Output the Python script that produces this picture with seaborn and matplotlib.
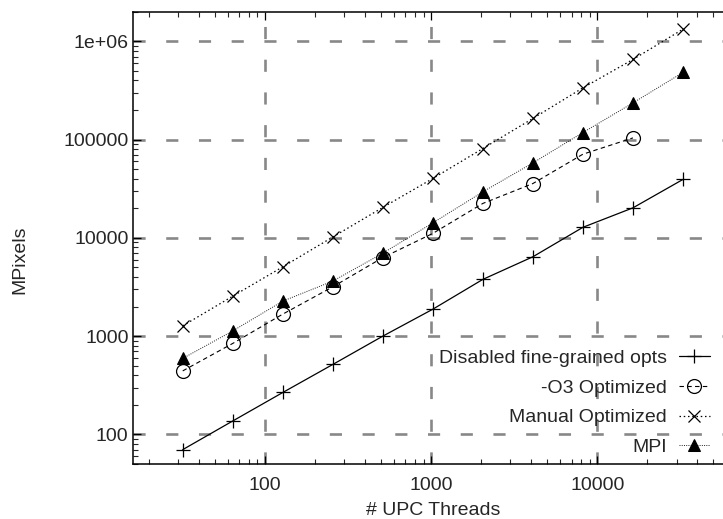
import numpy as np
import pandas as pd
import matplotlib
matplotlib.use("Agg")
import matplotlib.pyplot as plt
import seaborn as sns
from matplotlib.ticker import FixedLocator, FixedFormatter, LogLocator, NullFormatter

threads = [32, 64, 128, 256, 512, 1024, 2048, 4096, 8192, 16384, 32768]
disabled = [70, 137, 267, 515, 1000, 1880, 3780, 6420, 12800, 20200, 39300]
o3_threads = [32, 64, 128, 256, 512, 1024, 2048, 4096, 8192, 16384]
o3 = [443, 843, 1675, 3175, 6300, 11100, 22400, 35700, 71000, 104000]
manual = [1273, 2550, 5070, 10200, 20400, 40200, 81100, 164000, 336000, 653000, 1328000]
mpi = [593, 1130, 2270, 3630, 6980, 14200, 29400, 57900, 118000, 236000, 482000]

labels = ["Disabled fine-grained opts", "-O3 Optimized", "Manual Optimized", "MPI"]
xticks = [100, 1000, 10000]
xticklabels = ["100", "1000", "10000"]
yticks = [100, 1000, 10000, 100000, 1000000]
yticklabels = ["100", "1000", "10000", "100000", "1e+06"]

sns.set_style("ticks")
plt.rcParams['font.family'] = ['Liberation Sans', 'DejaVu Sans']
plt.rcParams['font.size'] = 14

W, H = 723, 519
fig = plt.figure(figsize=(W / 100, H / 100), dpi=100)
left, right, top, bottom = 132.7, 733.0, 11.7, 464.0
ax = fig.add_axes([left / W, 1 - bottom / H, (right - left) / W, (bottom - top) / H])

ax.set_xscale("log")
ax.set_yscale("log")
ax.set_xlim(16, 65536)
ax.set_ylim(50, 2e6)

# grid
for xv in xticks:
    ax.axvline(xv, color="#888888", lw=1.9, dashes=(4.6, 7.8), zorder=0.5)
for yv in yticks:
    ax.axhline(yv, color="#888888", lw=1.9, dashes=(4.6, 7.8), zorder=0.5)

df_dis = pd.DataFrame({"x": threads, "y": disabled})
df_o3 = pd.DataFrame({"x": o3_threads, "y": o3})
df_man = pd.DataFrame({"x": threads, "y": manual})
df_mpi = pd.DataFrame({"x": threads, "y": mpi})

sns.lineplot(data=df_dis, x="x", y="y", ax=ax, color="black", lw=0.9,
             marker="+", markersize=10, mew=0.9, mec="black", label=labels[0])
sns.lineplot(data=df_o3, x="x", y="y", ax=ax, color="black", lw=0.8,
             linestyle=(0, (4, 3)), marker="o", markersize=10, mfc="none",
             mec="black", mew=0.9, label=labels[1])
sns.lineplot(data=df_man, x="x", y="y", ax=ax, color="black", lw=0.9,
             linestyle=(0, (1.2, 2.2)), marker="x", markersize=9, mew=0.9,
             mec="black", label=labels[2])
sns.lineplot(data=df_mpi, x="x", y="y", ax=ax, color="#222222", lw=0.7,
             linestyle=(0, (1, 1.3)), marker="^", markersize=9, mfc="black",
             mec="black", label=labels[3])

ax.xaxis.set_major_locator(FixedLocator(xticks))
ax.xaxis.set_major_formatter(FixedFormatter(xticklabels))
ax.yaxis.set_major_locator(FixedLocator(yticks))
ax.yaxis.set_major_formatter(FixedFormatter(yticklabels))
ax.xaxis.set_minor_locator(LogLocator(base=10, subs=np.arange(2, 10), numticks=20))
ax.yaxis.set_minor_locator(LogLocator(base=10, subs=np.arange(2, 10), numticks=20))
ax.xaxis.set_minor_formatter(NullFormatter())
ax.yaxis.set_minor_formatter(NullFormatter())
ax.tick_params(which="major", direction="in", length=6, width=0.9, top=True, right=True,
               labelsize=14, color="black")
ax.tick_params(which="minor", direction="in", length=3.5, width=0.8, top=True, right=True)
ax.tick_params(axis="x", which="major", pad=9)
ax.tick_params(axis="y", which="major", pad=3)

for s in ax.spines.values():
    s.set_linewidth(1.1)
    s.set_color("black")

ax.set_xlabel("# UPC Threads", fontsize=14, labelpad=6)
ax.set_ylabel("MPixels", fontsize=14)
ax.yaxis.set_label_coords(20 / W, 0.5, transform=fig.transFigure)
ax.yaxis.label.set_va("center")

leg = ax.legend(loc="lower right", bbox_to_anchor=(710 / W, 1 - 456 / H),
                bbox_transform=fig.transFigure, frameon=False, markerfirst=False,
                handlelength=1.6, handletextpad=0.6, labelspacing=0.62,
                borderpad=0, borderaxespad=0, fontsize=14)

fig.savefig("out.png", dpi=100)
